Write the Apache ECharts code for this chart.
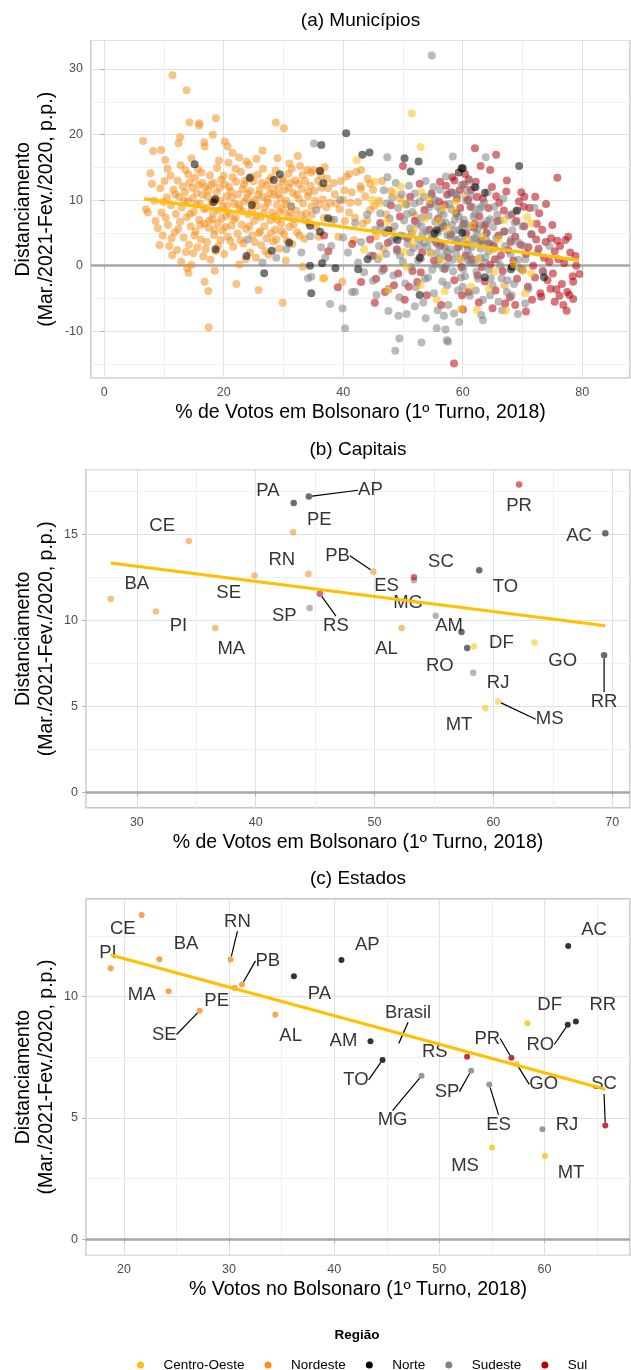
<!DOCTYPE html>
<html>
<head>
<meta charset="utf-8">
<script src="https://cdn.jsdelivr.net/npm/echarts@6/dist/echarts.min.js"></script>
<style>
  html, body { margin: 0; padding: 0; background: #fff; }
  #chart { width: 631px; height: 1370px; }
</style>
</head>
<body>
<div id="chart"></div>
<script>
const regions = ['Centro-Oeste', 'Nordeste', 'Norte', 'Sudeste', 'Sul'];

// (a) Municípios: [% votos Bolsonaro, distanciamento]
const munNordeste = [
  [11.44, 29.06], [13.8, 26.77], [6.53, 19.03], [14.27, 21.83], [15.9, 21.73], [15.9, 21.37], [18.7, 22.5], [18.17, 19.95],
  [12.72, 19.6], [12.45, 18.68], [16.76, 18.83], [16.82, 18.17], [20.19, 18.93], [20.65, 18.17], [28.73, 21.83], [30.08, 20.97],
  [8.2, 17.5], [9.55, 17.66], [10.23, 16.13], [7.74, 14.1], [26.5, 17.56], [32.4, 16.74], [17.5, -9.4], [29.88, -5.65],
  [17.43, -3.87], [16.82, -2.44], [18.5, -0.76], [14.13, -1.07], [22.14, -2.8], [25.84, -3.72], [9.29, 3.16], [36.8, -1.93],
  [39.84, -2.44], [33.24, -0.15], [14.6, 0.1], [21.5, 17.2], [22.6, 16.5], [23.8, 15.9], [19.2, 16.0], [25.5, 16.3],
  [29.0, 16.4], [31.0, 15.6], [34.6, 14.2], [36.0, 14.5], [41.0, 14.0], [43.0, 14.6], [44.5, 12.5],
  [7.0, 8.6], [7.3, 8.1], [8.0, 12.5], [8.4, 9.9], [9.0, 5.7], [9.4, 11.8], [9.6, 8.1], [9.8, 4.6], [10.1, 12.9], [10.3, 7.3],
  [10.5, 10.4], [10.7, 6.2], [10.9, 3.0], [11.1, 13.7], [11.2, 9.2], [11.4, 1.6], [11.6, 11.6], [11.8, 5.1], [12.0, 7.9],
  [12.2, 2.4], [12.3, 13.0], [12.5, 10.5], [12.7, 6.7], [12.9, 0.6], [13.0, 8.9], [13.2, 12.1], [13.3, 4.3], [13.5, 11.2],
  [13.6, 14.6], [13.8, 7.4], [13.9, -0.4], [14.0, 9.8], [14.2, 3.2], [14.3, 12.7], [14.5, 6.0], [14.6, 16.4], [14.8, 10.3],
  [14.9, 1.9], [15.0, 8.2], [15.2, 13.4], [15.3, 5.2], [15.5, 11.1], [15.6, 2.8], [15.8, 12.3], [15.9, 7.0], [16.0, 9.5],
  [16.2, 4.0], [16.3, 14.2], [16.5, 10.8], [16.6, 1.4], [16.8, 6.4], [16.9, 12.0], [17.1, 8.8], [17.2, 3.6], [17.4, 11.5],
  [17.5, 5.8], [17.7, 13.8], [17.8, 0.9], [18.0, 9.7], [18.1, 7.1], [18.3, 12.6], [18.4, 4.7], [18.6, 10.1], [18.7, 2.2],
  [18.9, 14.9], [19.0, 6.5], [19.2, 8.4], [19.3, 11.9], [19.5, 3.9], [19.6, 13.1], [19.8, 5.4], [19.9, 9.0], [20.1, 1.8],
  [20.2, 12.4], [20.4, 7.6], [20.5, 10.6], [20.7, 4.4], [20.8, 15.7], [21.0, 8.0], [21.2, 11.3], [21.3, 6.1], [21.5, 13.5],
  [21.6, 2.9], [21.8, 9.4], [22.0, 7.3], [22.1, 12.8], [22.3, 4.9], [22.4, 10.9], [22.6, 0.2], [22.7, 8.7], [22.9, 14.3],
  [23.0, 6.3], [23.2, 11.7], [23.3, 3.4], [23.5, 9.8], [23.6, 13.0], [23.8, 5.6], [23.9, 10.2], [24.1, 7.8], [24.2, 15.4],
  [24.4, 2.0], [24.5, 11.4], [24.7, 8.5], [24.8, 4.6], [25.0, 12.9], [25.1, 6.8], [25.3, 10.0], [25.4, 1.2], [25.6, 9.1],
  [25.7, 13.9], [25.9, 5.0], [26.0, 11.6], [26.2, 7.4], [26.3, 3.1], [26.5, 10.5], [26.6, 14.8], [26.8, 6.0], [26.9, 8.9],
  [27.1, 12.2], [27.2, 4.2], [27.4, 9.6], [27.5, 1.7], [27.7, 11.0], [27.8, 6.9], [28.0, 13.5], [28.1, 8.1], [28.3, 3.7],
  [28.4, 10.8], [28.6, 5.5], [28.7, 14.5], [28.9, 9.3], [29.0, 7.0], [29.2, 12.0], [29.3, 2.6], [29.5, 10.3], [29.6, 6.4],
  [29.8, 13.2], [29.9, 8.6], [30.1, 4.8], [30.2, 11.5], [30.4, 0.8], [30.5, 9.9], [30.7, 7.6], [30.8, 14.0], [31.0, 5.9],
  [31.2, 12.6], [31.3, 9.0], [31.5, 3.3], [31.6, 11.1], [31.8, 7.2], [32.0, 13.0], [32.1, 8.4], [32.3, 5.1], [32.5, 12.5],
  [32.6, 10.2], [32.8, 15.2], [33.0, 7.7], [33.1, 11.7], [33.3, 9.5], [33.5, 4.1], [33.6, 12.9], [33.8, 8.0], [34.0, 14.6],
  [34.1, 10.6], [34.3, 6.6], [34.5, 12.2], [34.7, 9.0], [35.0, 14.6], [35.2, 11.4], [35.5, 5.9], [35.8, 12.9], [36.0, 9.3],
  [36.3, 13.7], [36.6, 10.1], [36.9, 15.0], [37.2, 8.9], [37.5, 11.8], [38.0, 7.0], [38.4, 12.6], [38.8, 9.5], [39.2, 4.4],
  [39.6, 12.9], [40.0, 10.0], [40.3, 6.8], [40.6, 13.6], [41.0, 8.1], [41.4, 11.2], [41.8, 3.9], [42.2, 14.3], [42.5, 9.7],
  [42.9, 12.1], [43.3, 6.4], [43.7, 10.6], [44.1, 13.3], [44.5, 8.5], [45.0, 11.6], [45.5, 4.5], [46.0, 9.9], [46.5, 12.9],
  [47.2, 7.8], [48.0, 11.4], [49.5, 10.3], [50.5, 9.5], [46.8, 2.6], [48.2, 5.3], [52.0, 7.6], [57.0, 3.0], [63.5, 6.0],
  [67.0, -3.0], [60.5, 10.5],
  [8.6, 6.8], [9.9, 9.7], [10.6, 14.8], [11.3, 4.2], [11.9, 10.9], [12.4, 5.6], [12.8, 15.3], [13.4, 9.9], [13.7, 2.1],
  [14.1, 13.9], [14.4, 7.9], [14.7, 11.9], [15.1, 4.6], [15.4, 9.3], [15.7, 14.7], [16.1, 6.2], [16.4, 12.6], [16.7, 8.6],
  [17.0, 2.5], [17.3, 10.6], [17.6, 6.9], [17.9, 12.3], [18.2, 8.0], [18.5, 5.5], [18.8, 11.2], [19.1, 3.0], [19.4, 9.9],
  [19.7, 7.2], [20.0, 13.7], [20.3, 5.9], [20.6, 9.2], [20.9, 12.0], [21.1, 3.8], [21.4, 10.4], [21.7, 7.0], [22.0, 14.8],
  [22.5, 9.3], [22.8, 3.9], [23.1, 8.3], [23.4, 12.4], [23.7, 1.0], [24.0, 11.0], [24.3, 6.0], [24.6, 13.6], [24.9, 9.6],
  [25.2, 3.6], [25.5, 7.7], [25.8, 10.8], [26.1, 5.2], [26.4, 12.6], [26.7, 8.0], [27.0, 2.2], [27.3, 10.1], [27.6, 13.0],
  [27.9, 5.0], [28.2, 11.8], [28.5, 7.5], [28.8, 4.0], [29.1, 10.9], [29.4, 8.2], [29.7, 5.2], [30.0, 12.8], [30.3, 9.4],
  [30.6, 3.8], [30.9, 11.9], [31.1, 8.2], [31.4, 14.8], [31.7, 6.3], [32.2, 10.8], [32.7, 4.6], [33.2, 13.8], [33.7, 6.9],
  [34.2, 11.2], [34.8, 7.8], [35.3, 9.9], [35.9, 4.4], [36.4, 11.9], [36.8, 7.3], [37.3, 13.3], [37.8, 9.6], [38.6, 10.9],
  [39.4, 8.6], [40.2, 11.5], [41.2, 9.6], [42.0, 7.3], [43.0, 11.7], [44.0, 6.9], [45.2, 9.1]
];
const munSudeste = [
  [54.84, 32.06], [35.13, 18.63], [47.38, 16.54], [58.34, 16.64], [63.86, 16.54], [39.9, -6.51], [40.3, -9.52], [37.82, -5.85],
  [47.58, -6.92], [49.26, -7.63], [50.6, -7.38], [48.72, -12.98], [49.4, -11.1], [53.1, -11.7], [55.65, -9.52], [56.86, -7.63],
  [57.13, -9.72], [57.34, -11.35], [57.54, -11.6], [58.55, -7.28], [63.12, -7.53], [63.4, -8.3], [69.25, -7.38], [70.46, -5.75],
  [72.0, 8.85], [45.56, -4.48], [41.99, -3.97], [34.12, -1.93], [34.66, -1.68],
  [24.0, 4.0], [26.5, 0.5], [28.8, 1.2], [30.5, 2.5], [31.3, 9.1], [33.0, 2.0], [34.5, 4.5], [35.5, 8.5], [36.3, 2.8],
  [37.0, 1.2], [38.0, 3.0], [38.5, 7.0], [39.5, 10.0], [40.0, 4.3], [40.8, 2.0], [41.5, -4.0], [42.0, 6.5], [42.5, 0.5],
  [43.0, 3.6], [43.5, -1.0], [44.0, 7.8], [44.5, 1.5], [45.0, -2.3], [45.3, 5.5],
  [46.0, 3.0], [46.2, 8.0], [46.5, -0.8], [46.8, 11.5], [47.0, 5.0], [47.2, 1.8], [47.4, 13.5], [47.6, -3.5], [47.8, 7.2],
  [48.0, 3.8], [48.2, 10.4], [48.4, -1.5], [48.6, 6.0], [48.8, 12.6], [49.0, 2.2], [49.2, 8.8], [49.4, -4.8], [49.6, 4.6],
  [49.8, 10.9], [50.0, 0.6], [50.2, 6.9], [50.4, -2.7], [50.6, 9.3], [50.8, 3.3], [51.0, 12.2], [51.2, 5.7], [51.4, -0.2],
  [51.6, 8.2], [51.8, 2.7], [52.0, 11.0], [52.2, -3.3], [52.4, 6.4], [52.6, 4.0], [52.8, 9.8], [53.0, 1.1], [53.2, 7.3],
  [53.4, -5.6], [53.6, 3.5], [53.8, 12.9], [54.0, 5.2], [54.2, -1.8], [54.4, 8.9], [54.6, 2.0], [54.8, 10.7], [55.0, 4.4],
  [55.2, -4.2], [55.4, 6.7], [55.6, 0.2], [55.8, 9.0], [56.0, 3.0], [56.2, 11.6], [56.4, 5.8], [56.6, -2.4], [56.8, 7.8],
  [57.0, 1.5], [57.2, 13.6], [57.4, 4.7], [57.6, -6.0], [57.8, 9.4], [58.0, 2.5], [58.2, 6.2], [58.4, -0.9], [58.6, 11.1],
  [58.8, 4.0], [59.0, 8.0], [59.2, -3.8], [59.4, 5.5], [59.6, 1.0], [59.8, 12.3], [60.0, 3.6], [60.2, 7.0], [60.4, -1.6],
  [60.6, 9.9], [60.8, 2.3], [61.0, 5.9], [61.2, -4.6], [61.4, 10.6], [61.6, 3.9], [61.8, 7.5], [62.0, 0.4], [62.2, 12.0],
  [62.4, 4.8], [62.6, -2.0], [62.8, 8.6], [63.0, 2.6], [63.2, 6.3], [63.4, -5.2], [63.6, 9.6], [63.8, 1.3], [64.0, 5.0],
  [64.2, 11.2], [64.4, -0.6], [64.6, 7.1], [64.8, 3.2], [65.0, -3.0], [65.3, 9.0], [65.6, 4.2], [65.9, 0.9], [66.2, 6.9],
  [66.5, -1.9], [66.8, 10.2], [67.1, 3.0], [67.4, -4.0], [67.7, 7.6], [68.0, 1.8], [68.3, 5.4], [68.6, -2.8], [68.9, 8.3],
  [69.2, 3.6], [69.5, -0.3], [70.0, 6.0], [70.5, 1.0], [71.0, -3.5], [71.5, 4.8], [72.5, 2.0], [73.5, -1.0], [74.5, 3.0],
  [55.5, 3.8], [56.5, 6.6], [57.5, 2.1], [58.5, 5.3], [59.5, 3.0], [60.5, 6.4], [61.5, 2.8], [62.5, 5.6], [63.5, 3.4],
  [57.3, 0.0], [59.3, 7.5], [61.3, 0.5], [56.1, 1.0], [58.1, 8.6], [60.1, -0.5], [62.1, 7.9], [54.1, 2.9], [53.3, 4.9],
  [64.3, 2.2], [65.1, 5.9],
  [50.1, 4.5], [50.7, 7.9], [51.3, 2.0], [51.9, 9.5], [52.5, 0.8], [53.1, 6.0], [53.7, -2.0], [54.3, 7.6], [54.9, -0.6],
  [55.3, 10.0], [55.7, 1.9], [56.3, 8.3], [56.7, -0.4], [57.1, 6.6], [57.7, 11.0], [58.3, 0.9], [58.7, 7.0], [59.1, 3.9],
  [59.7, -1.8], [60.3, 4.6], [60.7, 11.5], [61.1, 1.6], [61.7, 8.9], [62.3, -0.9], [62.7, 3.6], [63.1, 9.0], [63.7, 0.5],
  [64.1, 6.8], [64.7, -1.9], [65.2, 2.6], [65.8, 7.8], [66.3, 0.0], [66.9, 5.2], [67.5, -2.2], [68.1, 4.0], [68.7, 6.6],
  [69.3, 0.9], [70.2, 3.0], [54.7, 4.0], [55.9, 5.1], [57.9, 4.5], [59.9, 5.8], [61.9, 4.2], [63.9, 4.0], [56.9, 2.7],
  [58.9, 1.9], [60.9, 0.8], [62.9, 1.2], [52.9, 3.0], [51.5, 5.0], [49.5, 1.5], [48.7, 4.3], [47.3, 9.5], [46.3, 5.9],
  [45.8, 1.0], [53.5, 10.5], [55.1, 12.0], [59.1, 10.7], [61.1, 12.9], [57.4, -3.0], [60.0, -3.2], [62.2, -3.8], [64.6, -4.5],
  [66.0, -5.5], [55.8, -6.8], [53.8, -8.0], [52.0, -6.2], [59.4, -8.6], [66.6, -6.8], [68.2, -4.5]
];
const munSul = [
  [58.55, -14.9], [75.84, 13.43], [65.6, 16.9], [62.05, 17.9], [70.32, 10.53], [72.14, 10.53], [73.95, 9.41], [79.54, -1.27],
  [78.87, 1.48], [78.5, -2.44], [77.86, -4.48], [78.5, -5.09], [75.4, -5.5], [76.85, -6.0], [77.4, -6.87], [73.15, -4.73],
  [67.1, -5.75], [60.03, -6.67], [45.29, -5.65], [39.1, -3.3], [77.2, 3.92], [75.84, 3.82], [77.66, 4.43],
  [36.8, 4.6], [37.5, 2.2], [41.5, 3.3], [43.0, -2.5],
  [44.5, 4.0], [45.0, 1.5], [45.5, -2.0], [46.2, 6.5], [46.8, -0.5], [47.5, 3.5], [48.0, 9.2], [48.5, -3.0], [49.0, 2.5],
  [49.5, 7.5], [50.0, 15.2], [50.3, -5.2], [50.8, 4.2], [51.2, 10.5], [51.6, -0.8], [52.0, 6.8], [52.4, -2.5], [52.8, 12.5],
  [53.2, 2.0], [53.6, 8.5], [54.0, -4.5], [54.4, 5.5], [54.8, 11.0], [55.2, 0.8], [55.6, 3.5], [56.0, 9.8], [56.4, -6.0],
  [56.8, 6.0], [57.2, 12.2], [57.6, 1.2], [58.0, 4.8], [58.3, 13.5], [58.6, -2.2], [58.9, 8.0], [59.2, 2.8], [59.5, 11.5],
  [59.8, -0.2], [60.1, 6.4], [60.4, 14.0], [60.7, 3.2], [61.0, -4.0], [61.3, 9.0], [61.6, 1.0], [61.9, 5.8], [62.2, 12.8],
  [62.5, -1.5], [62.8, 7.5], [63.1, 3.8], [63.4, 10.2], [63.7, -2.4], [64.0, 5.0], [64.3, 8.8], [64.6, 0.2], [64.9, 12.0],
  [65.2, 3.0], [65.5, -3.8], [65.8, 6.8], [66.1, 9.6], [66.4, 1.6], [66.7, -0.8], [67.0, 5.2], [67.3, 11.3], [67.6, 2.4],
  [67.9, -4.8], [68.2, 7.8], [68.5, 0.8], [68.8, 4.4], [69.1, -2.0], [69.4, 9.8], [69.7, 3.2], [70.0, -0.6], [70.3, 6.0],
  [70.6, 1.8], [70.9, -3.2], [71.2, 8.8], [71.5, 4.8], [71.8, 0.0], [72.1, -1.8], [72.4, 6.4], [72.7, 2.6], [73.0, -4.2],
  [73.3, 5.5], [73.6, 1.2], [73.9, 3.6], [74.2, -2.2], [74.5, 0.6], [74.8, 4.2], [75.1, -1.2], [75.4, 2.2], [75.7, -3.6],
  [76.0, 1.0], [76.3, 3.0], [76.6, -2.8], [77.0, 0.4], [77.5, -4.0], [78.0, 2.0], [78.4, -1.6], [79.0, 0.0],
  [57.0, 9.3], [59.0, 10.2], [60.2, 12.4], [61.0, 13.2], [58.6, 13.0], [62.4, 10.5], [56.3, 3.1], [60.6, 4.9], [63.8, 6.2],
  [66.0, 4.6],
  [55.9, 7.2], [57.4, 10.8], [59.6, 8.8], [60.9, 10.0], [62.0, 6.4], [63.2, -0.2], [64.4, 3.4], [65.6, 10.6], [66.9, 8.4],
  [68.0, 3.6], [69.0, 6.8], [70.2, 9.0], [71.0, 2.8], [72.3, 4.0], [73.4, -0.8], [74.7, -3.5], [76.2, -4.6], [75.0, 6.2],
  [72.8, 8.0], [69.8, 11.2], [67.4, 13.0], [64.6, 14.6], [63.0, 15.2], [61.4, 11.6], [58.1, 11.2], [56.2, 12.8], [54.6, 9.4],
  [53.0, -1.0], [51.0, -3.2], [49.2, -1.2], [47.0, -4.0], [59.9, -4.5], [62.7, -5.6], [65.0, -6.5], [68.8, -6.0], [71.6, -5.2],
  [70.6, -7.0], [57.0, -0.5], [60.5, 1.5], [65.4, 1.0]
];
const munNorte = [
  [40.5, 20.2], [36.34, 18.42], [44.41, 17.25], [43.2, 16.9], [50.27, 16.39], [52.62, 15.88], [69.45, 15.22], [60.03, 14.86],
  [59.35, 14.2], [51.28, 14.35], [15.14, 15.47], [28.4, 13.08], [29.4, 13.94], [24.36, 13.38], [36.68, 12.57], [36.14, 14.45],
  [18.57, 10.13], [18.3, 9.67], [24.7, 9.26], [30.96, 3.51], [23.82, 1.48], [26.78, -1.17], [18.64, 2.49], [28.06, 2.29],
  [34.45, 0.0], [34.45, 6.1], [34.66, -4.22], [38.7, -0.4], [42.5, -0.56], [44.08, 0.97], [36.47, 0.36], [37.48, 7.23],
  [36.14, 5.19], [68.24, -0.15], [73.62, -1.78], [69.1, 8.4], [59.8, 14.86], [63.7, -1.78], [52.8, -4.48], [49.06, 3.92],
  [52.8, 1.22], [47.58, 5.45], [55.3, 4.94], [55.65, 5.45], [62.05, 11.96], [63.7, 11.14], [59.9, 5.04], [68.1, -0.56]
];
const munCentroOeste = [
  [52.96, 18.1], [51.48, 23.2], [42.26, 16.08], [36.6, -1.93], [52.96, -2.95], [55.65, -5.14], [59.7, -6.62], [62.38, -6.77],
  [67.23, -6.87], [70.46, -4.22], [64.4, -3.46], [47.58, -3.72], [53.1, 11.2], [70.8, 7.38], [71.47, 6.46], [47.4, 6.72],
  [51.82, 5.45], [55.99, 6.82], [58.55, 8.35], [60.7, 3.92], [63.4, 4.43], [49.6, 12.06], [49.93, 9.52], [59.56, 1.02],
  [62.58, 0.97], [65.28, -0.92], [56.3, 0.87], [46.1, 1.37], [50.6, -0.15], [54.64, 1.88], [70.12, -0.76], [61.37, -3.2],
  [71.47, -1.17], [44.88, 10.03], [54.3, 10.03], [56.66, 8.75], [66.96, 6.97], [51.6, 3.41], [50.27, 2.14], [48.5, 11.0],
  [46.0, 9.5], [45.3, 12.8], [57.5, 5.6], [58.9, 9.8], [53.8, 7.2], [61.6, 6.2], [64.8, 2.4], [68.6, 0.2], [66.0, 4.0],
  [43.5, 2.5], [57.0, -3.9]
];
const munTrend = [[6.7, 10.2], [79.5, 0.8]];

// (b) Capitais
const capNames = ['BA', 'PI', 'CE', 'MA', 'SE', 'RN', 'PE', 'PA', 'AP', 'SP', 'RS', 'PB', 'SC', 'ES', 'TO', 'MG', 'AL', 'AM', 'RO', 'DF', 'GO', 'RJ', 'MS', 'MT', 'AC', 'RR', 'PR'];
const capRegion = ['Nordeste', 'Nordeste', 'Nordeste', 'Nordeste', 'Nordeste', 'Nordeste', 'Nordeste', 'Norte', 'Norte', 'Sudeste', 'Sul', 'Nordeste', 'Sul', 'Sudeste', 'Norte', 'Sudeste', 'Nordeste', 'Norte', 'Norte', 'Centro-Oeste', 'Centro-Oeste', 'Sudeste', 'Centro-Oeste', 'Centro-Oeste', 'Norte', 'Norte', 'Sul'];
const capVotes = [27.8, 31.6, 34.37, 36.6, 39.9, 44.44, 43.15, 43.2, 44.47, 44.54, 45.4, 49.9, 53.32, 53.32, 58.81, 55.15, 52.27, 57.32, 57.8, 58.37, 63.46, 58.3, 60.4, 59.32, 69.42, 69.32, 62.17];
const capDist = [11.24, 10.52, 14.61, 9.55, 12.6, 12.69, 15.12, 16.82, 17.19, 10.72, 11.55, 12.83, 12.5, 12.33, 12.91, 10.27, 9.55, 9.32, 8.39, 8.49, 8.72, 6.96, 5.29, 4.9, 15.06, 7.98, 17.89];
const capTrend = [[27.8, 13.33], [69.42, 9.69]];

// (c) Estados
const stNames = ['CE', 'PI', 'BA', 'MA', 'SE', 'PE', 'RN', 'PB', 'AL', 'PA', 'AP', 'AM', 'TO', 'MG', 'RS', 'SP', 'ES', 'MS', 'PR', 'GO', 'DF', 'RJ', 'MT', 'RO', 'RR', 'AC', 'SC'];
const stRegion = ['Nordeste', 'Nordeste', 'Nordeste', 'Nordeste', 'Nordeste', 'Nordeste', 'Nordeste', 'Nordeste', 'Nordeste', 'Norte', 'Norte', 'Norte', 'Norte', 'Sudeste', 'Sul', 'Sudeste', 'Sudeste', 'Centro-Oeste', 'Sul', 'Centro-Oeste', 'Centro-Oeste', 'Sudeste', 'Centro-Oeste', 'Norte', 'Norte', 'Norte', 'Sul'];
const stVotes = [21.69, 18.74, 23.37, 24.25, 27.2, 30.54, 30.15, 31.23, 34.4, 36.17, 40.69, 43.45, 44.6, 48.31, 52.64, 53.03, 54.75, 55.02, 56.86, 57.36, 58.39, 59.81, 60.04, 62.22, 62.99, 62.26, 65.79];
const stDist = [13.37, 11.17, 11.55, 10.23, 9.42, 10.36, 11.54, 10.5, 9.26, 10.84, 11.51, 8.16, 7.39, 6.74, 7.52, 6.95, 6.38, 3.78, 7.48, 7.22, 8.9, 4.53, 3.43, 8.84, 8.98, 12.09, 4.69];
const brasil = { name: 'Brasil', votes: 46.03, dist: 7.96 };
const stTrend = [[18.74, 11.72], [65.79, 6.18]];

// ---- style / layout ----
const font = 'Liberation Sans, Arial, sans-serif';
const regionColor = { 'Centro-Oeste': '#FCC010', 'Nordeste': '#F39020', 'Norte': '#000000', 'Sudeste': '#808080', 'Sul': '#B5000B' };
function fade(hex, a) {
  const n = parseInt(hex.slice(1), 16);
  return 'rgba(' + (n >> 16) + ',' + ((n >> 8) & 255) + ',' + (n & 255) + ',' + a + ')';
}

// label offsets (px) from each point, like ggrepel placed them
const capLabelOffset = {
  BA: [26, -15], PI: [22.5, 14.3], CE: [-26.6, -15.3], MA: [16, 21], SE: [-25.8, 17.3], RN: [-26.6, -13.7], PE: [26.2, -12],
  PA: [-25.8, -12.3], AP: [61.6, -6.3], SP: [-25.4, 7.7], RS: [16.1, 32], PB: [-35.8, -16], SC: [27, -15], ES: [-27.4, 5.3],
  TO: [26.2, 16.7], MG: [-27.6, -12.7], AL: [-14.9, 21], AM: [-12.5, -5.7], RO: [-27.4, 17.7], DF: [27.4, -3.3], GO: [28.2, 18.3],
  RJ: [25, 9.7], MS: [51.5, 17.7], MT: [-26.2, 16.7], AC: [-26.2, 3], RR: [0, 46.3], PR: [0, 21]
};
const capLabelLine = ['AP', 'RS', 'PB', 'MS', 'RR'];
const stLabelOffset = {
  CE: [-18.9, 14], PI: [-2.8, -15], BA: [26.6, -15.7], MA: [-27, 4], SE: [-35.4, 23.7], PE: [-18.1, 13], RN: [6.8, -37.7],
  PB: [25.8, -23.7], AL: [15.3, 21.3], PA: [25.4, 18], AP: [25.8, -15], AM: [-27, -0.3], TO: [-26.6, 20], Brasil: [10.5, -33.3],
  MG: [-29, 44.3], RS: [-32.2, -5], SP: [-24.1, 21], ES: [9.3, 40], MS: [-27, 18.7], PR: [-24.1, -19.3], GO: [27, 20.3],
  DF: [22.1, -18.3], RJ: [24.5, -4.3], MT: [26.2, 17.3], RO: [-27.4, 19.7], RR: [27, -16.3], AC: [25.8, -16], SC: [-1.2, -41]
};
const stLabelLine = ['SE', 'RN', 'PB', 'TO', 'Brasil', 'MG', 'SP', 'ES', 'PR', 'GO', 'RO', 'SC'];

const panels = [
  { grid: { left: 91, top: 40.5, width: 539, height: 337.6 }, x: [-2.2, 88], y: [-17.14, 34.34], xStep: 20, yStep: 10,
    xMinor: [10, 30, 50, 70], yMinor: [-15, -5, 5, 15, 25],
    title: '(a) Municípios', xTitle: '% de Votos em Bolsonaro (1º Turno, 2018)' },
  { grid: { left: 86, top: 469.7, width: 544, height: 338.2 }, x: [25.72, 71.5], y: [-0.89, 18.75], xStep: 10, yStep: 5,
    xMinor: [35, 45, 55, 65], yMinor: [2.5, 7.5, 12.5, 17.5],
    title: '(b) Capitais', xTitle: '% de Votos em Bolsonaro (1º Turno, 2018)' },
  { grid: { left: 86, top: 898.8, width: 544, height: 356.5 }, x: [16.39, 68.14], y: [-0.67, 14.04], xStep: 10, yStep: 5,
    xMinor: [25, 35, 45, 55, 65], yMinor: [2.5, 7.5, 12.5],
    title: '(c) Estados', xTitle: '% Votos no Bolsonaro (1º Turno, 2018)' }
];

const axisCommon = (step, splitNumber) => ({
  type: 'value',
  minInterval: step,
  maxInterval: step,
  splitNumber: splitNumber,
  axisLine: { show: false },
  axisTick: { show: true, length: 4, lineStyle: { color: '#B3B3B3', width: 1 } },
  axisLabel: { showMinLabel: false, showMaxLabel: false, color: '#4D4D4D', fontSize: 12.5, fontFamily: font, margin: 8 },
  splitLine: { show: true, lineStyle: { color: '#E0E0E0', width: 1 } }
});

const xAxes = panels.map((p, i) => Object.assign(axisCommon(p.xStep, 5), { gridIndex: i, min: p.x[0], max: p.x[1] }));
const yAxes = panels.map((p, i) => Object.assign(axisCommon(p.yStep, 4), { gridIndex: i, min: p.y[0], max: p.y[1] }));

const series = [];

// background guides: minor grid and zero line, kept under the points
panels.forEach((p, i) => {
  series.push({
    type: 'scatter', xAxisIndex: i, yAxisIndex: i, data: [], silent: true, z: 1,
    markLine: {
      z: 1, silent: true, animation: false, symbol: ['none', 'none'], label: { show: false },
      lineStyle: { type: 'solid', color: '#F0F0F0', width: 1 },
      emphasis: { disabled: true },
      data: p.xMinor.map(v => ({ xAxis: v })).concat(p.yMinor.map(v => ({ yAxis: v })))
        .concat([{ yAxis: 0, lineStyle: { type: 'solid', color: '#A6A6A6', width: 2.6 } }])
    }
  });
});

function labelledSeries(names, region, votes, dist, offsets, lined, panelIndex, size, alpha) {
  return regions.map(r => ({
    name: r, type: 'scatter', xAxisIndex: panelIndex, yAxisIndex: panelIndex, z: 2, silent: true,
    symbolSize: size,
    itemStyle: { color: fade(regionColor[r], alpha) },
    label: { show: true, position: 'inside', formatter: '{b}', color: '#000', fontSize: 18.5, fontFamily: font },
    labelLine: { show: false, lineStyle: { color: '#000', width: 1.2 } },
    labelLayout: prm => { const o = offsets[prm.text] || [0, 0]; return { dx: o[0], dy: o[1] }; },
    data: names.map((n, k) => ({ n, k })).filter(d => region[d.k] === r).map(d => ({
      name: d.n, value: [votes[d.k], dist[d.k]], labelLine: { show: lined.includes(d.n) }
    }))
  }));
}

// (c) first so the legend takes its opaque colours
series.push(...labelledSeries(stNames, stRegion, stVotes, stDist, stLabelOffset, stLabelLine, 2, 6, 1));
series.push({
  name: brasil.name, type: 'scatter', xAxisIndex: 2, yAxisIndex: 2, z: 2, silent: true, symbolSize: 6,
  itemStyle: { color: 'rgba(0,0,0,0)' },
  label: { show: true, position: 'inside', formatter: '{b}', color: '#000', fontSize: 18.5, fontFamily: font },
  labelLine: { show: true, lineStyle: { color: '#000', width: 1.2 } },
  labelLayout: prm => { const o = stLabelOffset[prm.text]; return { dx: o[0], dy: o[1] }; },
  data: [{ name: brasil.name, value: [brasil.votes, brasil.dist] }]
});
series.push(...labelledSeries(capNames, capRegion, capVotes, capDist, capLabelOffset, capLabelLine, 1, 6.5, 0.72));

const munByRegion = { 'Nordeste': munNordeste, 'Sul': munSul, 'Sudeste': munSudeste, 'Norte': munNorte, 'Centro-Oeste': munCentroOeste };
['Nordeste', 'Sul', 'Sudeste', 'Norte', 'Centro-Oeste'].forEach(r => {
  series.push({
    name: r, type: 'scatter', xAxisIndex: 0, yAxisIndex: 0, z: 2, silent: true,
    symbolSize: 8, itemStyle: { color: fade(regionColor[r], 0.68) },
    data: munByRegion[r]
  });
});

[munTrend, capTrend, stTrend].forEach((t, i) => {
  series.push({
    type: 'line', xAxisIndex: i, yAxisIndex: i, data: t, z: 4, silent: true,
    symbol: 'none', showSymbol: false, lineStyle: { color: '#FFC000', width: 3.2 }
  });
});

const texts = [];
panels.forEach(p => {
  const cx = p.grid.left + p.grid.width / 2;
  const cy = p.grid.top + p.grid.height / 2;
  const bottom = p.grid.top + p.grid.height;
  texts.push({ type: 'text', x: cx, y: p.grid.top - 20, style: { text: p.title, font: '19px ' + font, fill: '#000', align: 'center', verticalAlign: 'middle' } });
  texts.push({ type: 'text', x: cx, y: bottom + 34.5, style: { text: p.xTitle, font: '19.5px ' + font, fill: '#000', align: 'center', verticalAlign: 'middle' } });
  texts.push({ type: 'text', x: 34.7, y: cy, rotation: Math.PI / 2,
    style: { text: 'Distanciamento\n(Mar./2021-Fev./2020, p.p.)', font: '19.5px ' + font, lineHeight: 23, fill: '#000', align: 'center', verticalAlign: 'middle' } });
});
texts.push({ type: 'text', x: 357, y: 1335, style: { text: 'Região', font: 'bold 13.5px ' + font, fill: '#000', align: 'center', verticalAlign: 'middle' } });

const chart = echarts.init(document.getElementById('chart'), null, { renderer: 'canvas' });
chart.setOption({
  animation: false,
  backgroundColor: '#fff',
  grid: panels.map(p => Object.assign({}, p.grid, {
    show: true, borderColor: '#B3B3B3', borderWidth: 1.2, backgroundColor: '#fff', containLabel: false, outerBoundsMode: 'none'
  })),
  xAxis: xAxes,
  yAxis: yAxes,
  legend: {
    data: regions, left: 132, top: 1353, icon: 'circle', itemWidth: 7, itemHeight: 7, itemGap: 20,
    selectedMode: false, itemStyle: { opacity: 1 },
    textStyle: { fontSize: 13.5, color: '#000', fontFamily: font, padding: [0, 0, 0, 14.5] }
  },
  graphic: texts,
  series: series
});
</script>
</body>
</html>
